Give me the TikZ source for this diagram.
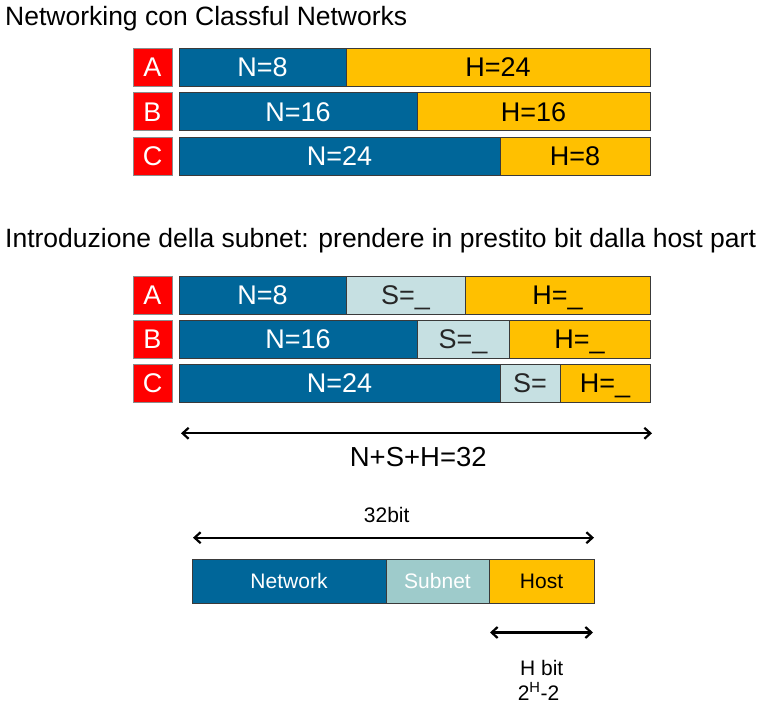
\documentclass[tikz,border=0pt]{standalone}
\usepackage{fontspec}
\setmainfont{Liberation Sans}
\usetikzlibrary{arrows.meta}

\definecolor{netblue}{HTML}{006699}
\definecolor{hostyellow}{HTML}{FFC000}
\definecolor{subpale}{HTML}{C6E0E2}
\definecolor{subteal}{HTML}{9ECBCB}
\definecolor{classred}{HTML}{FF0000}
\definecolor{edgegray}{HTML}{3A3A3A}

% one field of an address bar: name, style, x1, x2, ytop, ybottom, label
\newcommand{\field}[7]{%
  \node[#2, anchor=north west,
        minimum width={(#4-#3)*1pt}, minimum height={(#6-#5)*1pt}]
        (#1) at (#3,#5) {#7};}

\tikzset{
  base/.style={draw=edgegray, line width=0.8pt, inner sep=0pt, outer sep=0pt,
               font=\fontsize{27}{30}\selectfont, text height=19.5pt, text depth=0pt},
  netf/.style={base, fill=netblue, text=white},
  hostf/.style={base, fill=hostyellow, text=black},
  subf/.style={base, fill=subpale, text=black!85},
  classf/.style={base, draw=black!45, fill=classred, text=white},
  small/.style={font=\fontsize{21}{24}\selectfont, text height=15pt, text depth=0pt},
  netb/.style={netf, small},
  subb/.style={base, small, fill=subteal, text=white},
  hostb/.style={hostf, small},
  title/.style={anchor=base west, inner sep=0pt, font=\fontsize{26.5}{30}\selectfont},
  label/.style={anchor=base, inner sep=0pt},
  span/.style={line width=2.2pt, {Straight Barb[length=6pt,width=11pt]}-{Straight Barb[length=6pt,width=11pt]}}
}

\begin{document}
\begin{tikzpicture}[x=1pt, y=-1pt]
\useasboundingbox (0,0) rectangle (758,704);

% ---------- classful networks ----------
\node[title] (t1) at (5,25) {Networking con Classful Networks};

\field{ca}{classf}{133}{172}{48}{86}{A}
\field{cb}{classf}{133}{172}{92.5}{130.5}{B}
\field{cc}{classf}{133}{172}{137}{175}{C}

\field{na}{netf}{179}{346}{48}{86}{N=8}
\field{ha}{hostf}{346}{650}{48}{86}{H=24}
\field{nb}{netf}{179}{417}{92.5}{130.5}{N=16}
\field{hb}{hostf}{417}{650}{92.5}{130.5}{H=16}
\field{nc}{netf}{179}{500}{137}{175}{N=24}
\field{hc}{hostf}{500}{650}{137}{175}{H=8}

% ---------- subnetting ----------
\node[title] (t2) at (5,247) {Introduzione della subnet: prendere in prestito bit dalla host part};

\field{sca}{classf}{133}{172}{276}{314}{A}
\field{scb}{classf}{133}{172}{320}{358}{B}
\field{scc}{classf}{133}{172}{364}{402}{C}

\field{sna}{netf}{179}{346}{276}{314}{N=8}
\field{ssa}{subf}{346}{465}{276}{314}{S=\_}
\field{sha}{hostf}{465}{650}{276}{314}{H=\_}
\field{snb}{netf}{179}{417}{320}{358}{N=16}
\field{ssb}{subf}{417}{509}{320}{358}{S=\_}
\field{shb}{hostf}{509}{650}{320}{358}{H=\_}
\field{snc}{netf}{179}{500}{364}{402}{N=24}
\field{ssc}{subf}{500}{560}{364}{402}{S=}
\field{shc}{hostf}{560}{650}{364}{402}{H=\_}

\coordinate (tl) at (181,433.3);
\coordinate (tr) at (652,433.3);
\draw[span] (tl) -- (tr);
\node[label, font=\fontsize{27.5}{30}\selectfont] (sum) at (418.3,466.5) {N+S+H=32};

% ---------- address layout ----------
\node[label, font=\fontsize{21}{24}\selectfont] (bits) at (386.7,522) {32bit};
\coordinate (bl) at (193,537.7);
\coordinate (br) at (594,537.7);
\draw[span] (bl) -- (br);

\field{fnet}{netb}{192}{386}{559}{603}{Network}
\field{fsub}{subb}{386}{489}{559}{603}{Subnet}
\field{fhost}{hostb}{489}{594}{559}{603}{Host}

\coordinate (hl) at (490,632.5);
\coordinate (hr) at (593,632.5);
\draw[span] (hl) -- (hr);
\node[label, font=\fontsize{21}{24}\selectfont] (hbit) at (541.7,675) {H bit};
\node[label, font=\fontsize{21}{24}\selectfont] (hcount) at (538.5,700) {2\textsuperscript{H}-2};
\end{tikzpicture}
\end{document}
